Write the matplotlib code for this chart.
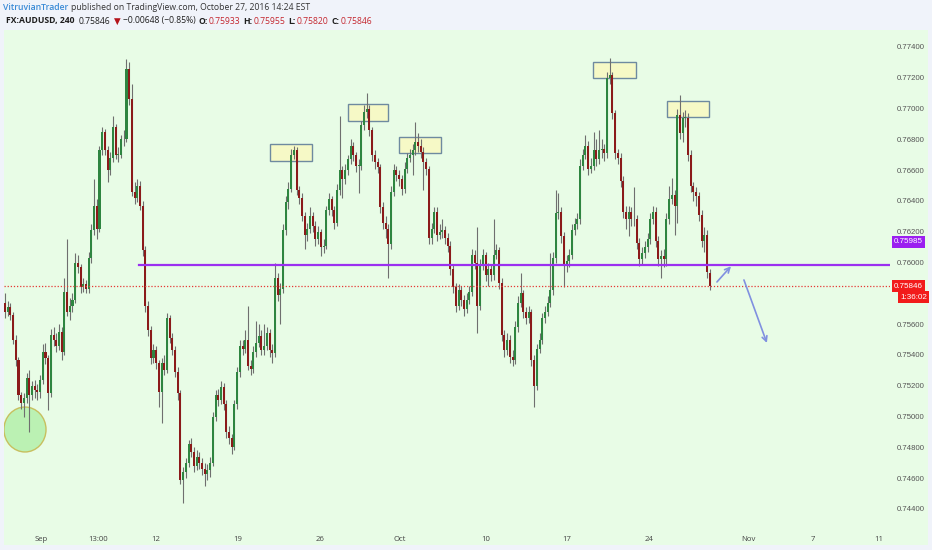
import numpy as np
import matplotlib
matplotlib.use("Agg")
import matplotlib.pyplot as plt
from matplotlib.patches import Rectangle, Ellipse

# AUDUSD 4H candles, prices in pips (divide by 10000)
opens = [
    7574, 7568, 7571, 7566, 7550, 7537, 7514, 7509, 7512, 7525,
    7514, 7520, 7517, 7516, 7524, 7542, 7538, 7515, 7553, 7550,
    7546, 7555, 7542, 7581, 7568, 7572, 7576, 7600, 7597, 7584,
    7586, 7583, 7603, 7621, 7637, 7622, 7673, 7685, 7673, 7660,
    7668, 7688, 7670, 7670, 7680, 7680, 7726, 7706, 7646, 7642,
    7650, 7637, 7608, 7572, 7556, 7538, 7543, 7535, 7516, 7535,
    7530, 7564, 7551, 7543, 7529, 7515, 7459, 7464, 7470, 7482,
    7477, 7468, 7474, 7470, 7466, 7463, 7465, 7470, 7500, 7514,
    7511, 7519, 7508, 7490, 7486, 7480, 7508, 7529, 7546, 7544,
    7550, 7533, 7531, 7542, 7548, 7552, 7543, 7546, 7554, 7543,
    7541, 7590, 7579, 7583, 7621, 7639, 7648, 7670, 7673, 7647,
    7642, 7630, 7618, 7622, 7630, 7624, 7615, 7620, 7610, 7611,
    7634, 7641, 7634, 7626, 7647, 7660, 7654, 7660, 7667, 7676,
    7670, 7663, 7663, 7689, 7698, 7700, 7686, 7670, 7665, 7662,
    7636, 7626, 7622, 7612, 7646, 7660, 7657, 7654, 7648, 7661,
    7668, 7670, 7673, 7678, 7676, 7672, 7665, 7661, 7616, 7622,
    7633, 7618, 7620, 7621, 7616, 7611, 7596, 7584, 7572, 7582,
    7576, 7570, 7576, 7581, 7605, 7600, 7572, 7598, 7605, 7592,
    7596, 7592, 7605, 7608, 7587, 7553, 7543, 7550, 7539, 7537,
    7558, 7574, 7580, 7568, 7564, 7568, 7537, 7520, 7544, 7550,
    7564, 7568, 7574, 7582, 7603, 7632, 7633, 7617, 7598, 7601,
    7605, 7621, 7625, 7628, 7663, 7670, 7676, 7661, 7663, 7673,
    7667, 7673, 7674, 7671, 7720, 7722, 7697, 7671, 7668, 7653,
    7633, 7628, 7633, 7628, 7628, 7613, 7602, 7606, 7610, 7615,
    7628, 7633, 7614, 7602, 7604, 7602, 7628, 7641, 7644, 7637,
    7696, 7684, 7694, 7694, 7670, 7650, 7646, 7643, 7631, 7614,
    7618, 7593.3,
]
highs = [
    7580, 7575, 7574, 7568, 7553, 7539, 7516, 7515, 7528, 7530,
    7523, 7524, 7521, 7527, 7547, 7548, 7540, 7557, 7558, 7554,
    7560, 7558, 7590, 7615, 7577, 7580, 7606, 7605, 7599, 7590,
    7589, 7607, 7625, 7654, 7641, 7676, 7688, 7687, 7676, 7672,
    7695, 7690, 7675, 7683, 7686, 7732, 7730, 7716, 7652, 7654,
    7653, 7640, 7611, 7575, 7559, 7547, 7546, 7537, 7538, 7540,
    7567, 7566, 7554, 7546, 7532, 7517, 7467, 7473, 7485, 7486,
    7480, 7478, 7477, 7473, 7470, 7469, 7474, 7503, 7517, 7518,
    7523, 7522, 7511, 7494, 7489, 7511, 7532, 7550, 7550, 7556,
    7572, 7537, 7546, 7562, 7560, 7556, 7560, 7558, 7557, 7547,
    7600, 7593, 7587, 7625, 7643, 7652, 7674, 7676, 7675, 7650,
    7645, 7633, 7626, 7636, 7633, 7627, 7624, 7622, 7615, 7637,
    7645, 7643, 7637, 7651, 7695, 7663, 7664, 7670, 7680, 7678,
    7672, 7667, 7692, 7702, 7710, 7702, 7688, 7673, 7668, 7664,
    7639, 7630, 7625, 7650, 7664, 7663, 7660, 7657, 7665, 7671,
    7674, 7677, 7691, 7684, 7680, 7675, 7668, 7663, 7626, 7636,
    7636, 7625, 7628, 7624, 7619, 7614, 7599, 7587, 7586, 7585,
    7579, 7580, 7585, 7609, 7608, 7623, 7602, 7609, 7607, 7600,
    7599, 7628, 7612, 7610, 7590, 7556, 7554, 7553, 7543, 7562,
    7578, 7593, 7582, 7571, 7572, 7570, 7540, 7547, 7554, 7567,
    7572, 7578, 7606, 7607, 7647, 7645, 7636, 7620, 7605, 7609,
    7625, 7629, 7632, 7667, 7674, 7683, 7679, 7668, 7685, 7680,
    7686, 7680, 7677, 7724, 7733, 7724, 7699, 7674, 7671, 7656,
    7637, 7637, 7636, 7649, 7631, 7616, 7610, 7614, 7619, 7632,
    7637, 7636, 7617, 7608, 7609, 7632, 7650, 7655, 7647, 7700,
    7709, 7698, 7699, 7697, 7673, 7652, 7649, 7646, 7634, 7623,
    7621, 7595.5,
]
lows = [
    7564, 7565, 7563, 7547, 7533, 7511, 7505, 7500, 7509, 7490,
    7511, 7512, 7511, 7512, 7521, 7534, 7504, 7513, 7546, 7542,
    7543, 7537, 7540, 7565, 7563, 7568, 7574, 7593, 7580, 7581,
    7580, 7580, 7600, 7618, 7615, 7620, 7670, 7670, 7652, 7657,
    7665, 7667, 7665, 7668, 7676, 7678, 7702, 7643, 7638, 7639,
    7634, 7604, 7568, 7552, 7534, 7535, 7531, 7506, 7496, 7527,
    7528, 7548, 7540, 7526, 7511, 7456, 7444, 7460, 7467, 7474,
    7464, 7465, 7466, 7462, 7455, 7459, 7461, 7468, 7497, 7507,
    7508, 7504, 7486, 7482, 7476, 7478, 7505, 7526, 7540, 7541,
    7530, 7527, 7528, 7539, 7545, 7540, 7540, 7543, 7539, 7535,
    7539, 7575, 7560, 7580, 7618, 7635, 7646, 7667, 7644, 7638,
    7627, 7609, 7614, 7619, 7620, 7611, 7612, 7604, 7606, 7609,
    7631, 7630, 7622, 7624, 7644, 7642, 7651, 7657, 7664, 7666,
    7659, 7645, 7660, 7686, 7694, 7682, 7666, 7661, 7658, 7632,
    7622, 7616, 7590, 7609, 7643, 7653, 7650, 7644, 7645, 7658,
    7665, 7657, 7670, 7672, 7668, 7647, 7657, 7612, 7612, 7619,
    7614, 7615, 7616, 7612, 7607, 7592, 7580, 7568, 7569, 7572,
    7565, 7567, 7573, 7578, 7596, 7554, 7569, 7595, 7588, 7585,
    7588, 7589, 7602, 7583, 7549, 7539, 7540, 7535, 7533, 7534,
    7555, 7571, 7564, 7560, 7561, 7533, 7506, 7517, 7541, 7547,
    7561, 7565, 7571, 7579, 7600, 7628, 7613, 7584, 7594, 7597,
    7602, 7618, 7622, 7625, 7660, 7667, 7657, 7658, 7660, 7663,
    7664, 7668, 7666, 7668, 7716, 7693, 7667, 7664, 7649, 7629,
    7622, 7617, 7624, 7624, 7609, 7598, 7599, 7603, 7607, 7612,
    7625, 7610, 7598, 7590, 7597, 7598, 7625, 7638, 7618, 7626,
    7680, 7678, 7688, 7666, 7646, 7640, 7637, 7627, 7610, 7607,
    7590, 7582.0,
]
closes = [
    7568, 7571, 7566, 7550, 7537, 7514, 7509, 7512, 7525, 7514,
    7520, 7517, 7516, 7524, 7542, 7538, 7515, 7553, 7550, 7546,
    7555, 7542, 7581, 7568, 7572, 7576, 7600, 7597, 7584, 7586,
    7583, 7603, 7621, 7637, 7622, 7673, 7685, 7673, 7660, 7668,
    7688, 7670, 7670, 7680, 7680, 7726, 7706, 7646, 7642, 7650,
    7637, 7608, 7572, 7556, 7538, 7543, 7535, 7516, 7535, 7530,
    7564, 7551, 7543, 7529, 7515, 7459, 7464, 7470, 7482, 7477,
    7468, 7474, 7470, 7466, 7463, 7465, 7470, 7500, 7514, 7511,
    7519, 7508, 7490, 7486, 7480, 7508, 7529, 7546, 7544, 7550,
    7533, 7531, 7542, 7548, 7552, 7543, 7546, 7554, 7543, 7541,
    7590, 7579, 7583, 7621, 7639, 7648, 7670, 7673, 7647, 7642,
    7630, 7618, 7622, 7630, 7624, 7615, 7620, 7610, 7611, 7634,
    7641, 7634, 7626, 7647, 7660, 7654, 7660, 7667, 7676, 7670,
    7663, 7663, 7689, 7698, 7700, 7686, 7670, 7665, 7662, 7636,
    7626, 7622, 7612, 7646, 7660, 7657, 7654, 7648, 7661, 7668,
    7670, 7673, 7678, 7676, 7672, 7665, 7661, 7616, 7622, 7633,
    7618, 7620, 7621, 7616, 7611, 7596, 7584, 7572, 7582, 7576,
    7570, 7576, 7581, 7605, 7600, 7572, 7598, 7605, 7592, 7596,
    7592, 7605, 7608, 7587, 7553, 7543, 7550, 7539, 7537, 7558,
    7574, 7580, 7568, 7564, 7568, 7537, 7520, 7544, 7550, 7564,
    7568, 7574, 7582, 7603, 7632, 7633, 7617, 7598, 7601, 7605,
    7621, 7625, 7628, 7663, 7670, 7676, 7661, 7663, 7673, 7667,
    7673, 7674, 7671, 7720, 7722, 7697, 7671, 7668, 7653, 7633,
    7628, 7633, 7628, 7628, 7613, 7602, 7606, 7610, 7615, 7628,
    7633, 7614, 7602, 7604, 7602, 7628, 7641, 7644, 7637, 7696,
    7684, 7694, 7694, 7670, 7650, 7646, 7643, 7631, 7614, 7618,
    7594, 7584.6,
]

date_ticks = [13.3, 34.4, 55.9, 86.3, 116.7, 146.3, 178.1, 208.1, 238.5, 275.2, 299.3, 323.7]
date_labels = ["Sep", "13:00", "12", "19", "26", "Oct", "10", "17", "24", "Nov", "7", "11"]

support_level = 0.75985
support_start = 49.6
last_price = 0.75846
countdown = "1:36:02"

# (first bar, last bar, top price, bottom price)
top_boxes = [
    (98.1, 113.7, 0.76770, 0.76660),
    (127.0, 141.9, 0.77030, 0.76919),
    (145.9, 161.5, 0.76816, 0.76712),
    (217.8, 233.7, 0.77303, 0.77199),
    (245.2, 260.7, 0.77049, 0.76945),
]
# arrows: (x0, p0, x1, p1)
arrows = [
    (263.7, 0.75874, 268.9, 0.75976),
    (273.7, 0.75887, 282.2, 0.75478),
]
circle_center = (7.4, 0.74916)

o = np.array(opens) / 10000
h = np.array(highs) / 10000
l = np.array(lows) / 10000
c = np.array(closes) / 10000
idx = np.arange(len(c))

W, H = 932, 550
fig = plt.figure(figsize=(W / 100, H / 100), dpi=100)
fig.patch.set_facecolor("#f0f3fa")
fig.add_artist(Rectangle((4 / W, 5 / H), 924 / W, 515 / H, transform=fig.transFigure,
                         facecolor="#e8fce6", edgecolor="none", zorder=0))

ax = fig.add_axes([4 / W, 1 - 525 / H, 886 / W, 495 / H])
ax.set_facecolor("none")
ax.set_xlim(-0.37, 327.8)
ax.set_ylim(0.74296, 0.77510)
for s in ax.spines.values():
    s.set_visible(False)

# boxes and circle under the candles
for x0, x1, top, bot in top_boxes:
    ax.add_patch(Rectangle((x0, bot), x1 - x0, top - bot, facecolor="#f6f9c6",
                           edgecolor="#6e8aa0", lw=1, zorder=1))
ax.add_patch(Ellipse(circle_center, 15.6, 0.00292, facecolor="#b3f0ab", alpha=0.85,
                     edgecolor="#c6b64c", lw=1, zorder=1))

# candles
up = c >= o
ax.vlines(idx, l, h, color="#6f6f6f", lw=0.8, zorder=2)
body = np.maximum(np.abs(c - o), 0.00004)
ax.bar(idx[up], body[up], bottom=o[up], width=0.75, color="#2e8540", zorder=3)
ax.bar(idx[~up], body[~up], bottom=c[~up], width=0.75, color="#8b1a1a", zorder=3)

# lines
ax.axhline(last_price, color="#e53935", lw=0.9, ls=(0, (1, 1.5)), zorder=4)
ax.plot([support_start, 327.8], [support_level, support_level], color="#9b30f0", lw=1.6, zorder=4)

for x0, p0, x1, p1 in arrows:
    ax.annotate("", xy=(x1, p1), xytext=(x0, p0),
                arrowprops=dict(arrowstyle="->", color="#8090e0", lw=1.2,
                                shrinkA=0, shrinkB=0, mutation_scale=9), zorder=5)

# axes ticks
ax.set_xticks(date_ticks)
ax.set_xticklabels(date_labels, fontsize=5.6, color="#444444", family="Open Sans")
ax.tick_params(axis="x", length=0, pad=8)
price_ticks = [p for p in np.arange(0.744, 0.7741, 0.002) if abs(p - 0.758) > 1e-6]
ax.yaxis.tick_right()
ax.set_yticks(price_ticks)
ax.set_yticklabels(["%.5f" % p for p in price_ticks], fontsize=5.6, color="#555555",
                   family="Liberation Sans")
ax.tick_params(axis="y", length=0, pad=5)

ytr = ax.get_yaxis_transform()
ax.annotate("%.5f" % last_price, xy=(1.0, last_price), xycoords=ytr, xytext=(4, 0),
            textcoords="offset pixels", fontsize=5.8, color="white", family="Liberation Sans",
            va="center", ha="left", bbox=dict(boxstyle="square,pad=0.3", fc="#f21b1b", ec="none"),
            annotation_clip=False, zorder=6)
ax.annotate(countdown, xy=(1.0, last_price), xycoords=ytr, xytext=(10, -11),
            textcoords="offset pixels", fontsize=5.8, color="white", family="Liberation Sans",
            va="center", ha="left", bbox=dict(boxstyle="square,pad=0.3", fc="#f21b1b", ec="none"),
            annotation_clip=False, zorder=6)
ax.annotate("%.5f" % support_level, xy=(1.0, support_level), xycoords=ytr, xytext=(4, 23),
            textcoords="offset pixels", fontsize=5.8, color="white", family="Liberation Sans",
            va="center", ha="left", bbox=dict(boxstyle="square,pad=0.3", fc="#9b1ff0", ec="none"),
            annotation_clip=False, zorder=6)

# header
renderer = fig.canvas.get_renderer()


def write_run(x_px, y_px, parts):
    for s, gap, kw in parts:
        t = fig.text(x_px / W, 1 - y_px / H, s, va="center", ha="left",
                     family=["Open Sans", "DejaVu Sans"], fontsize=6.2, **kw)
        x_px += t.get_window_extent(renderer).width + gap


write_run(3, 7.5, [
    ("VitruvianTrader", 3, dict(color="#3a8bd6", weight="semibold")),
    ("published on TradingView.com, October 27, 2016 14:24 EST", 0, dict(color="#333333")),
])
red = "#c4262e"
write_run(6, 21, [
    ("FX:AUDUSD, 240", 4, dict(color="#1e1e1e", weight="bold")),
    ("0.75846", 4, dict(color="#1e1e1e")),
    ("\u25bc", 2, dict(color="#b5121b")),
    ("\u22120.00648 (\u22120.85%)", 3, dict(color="#1e1e1e")),
    ("O:", 1, dict(color="#1e1e1e", weight="bold")),
    ("0.75933", 3, dict(color=red)),
    ("H:", 1, dict(color="#1e1e1e", weight="bold")),
    ("0.75955", 3, dict(color=red)),
    ("L:", 1, dict(color="#1e1e1e", weight="bold")),
    ("0.75820", 3, dict(color=red)),
    ("C:", 1, dict(color="#1e1e1e", weight="bold")),
    ("0.75846", 0, dict(color=red)),
])

fig.savefig("out.png", dpi=100, facecolor=fig.get_facecolor())
